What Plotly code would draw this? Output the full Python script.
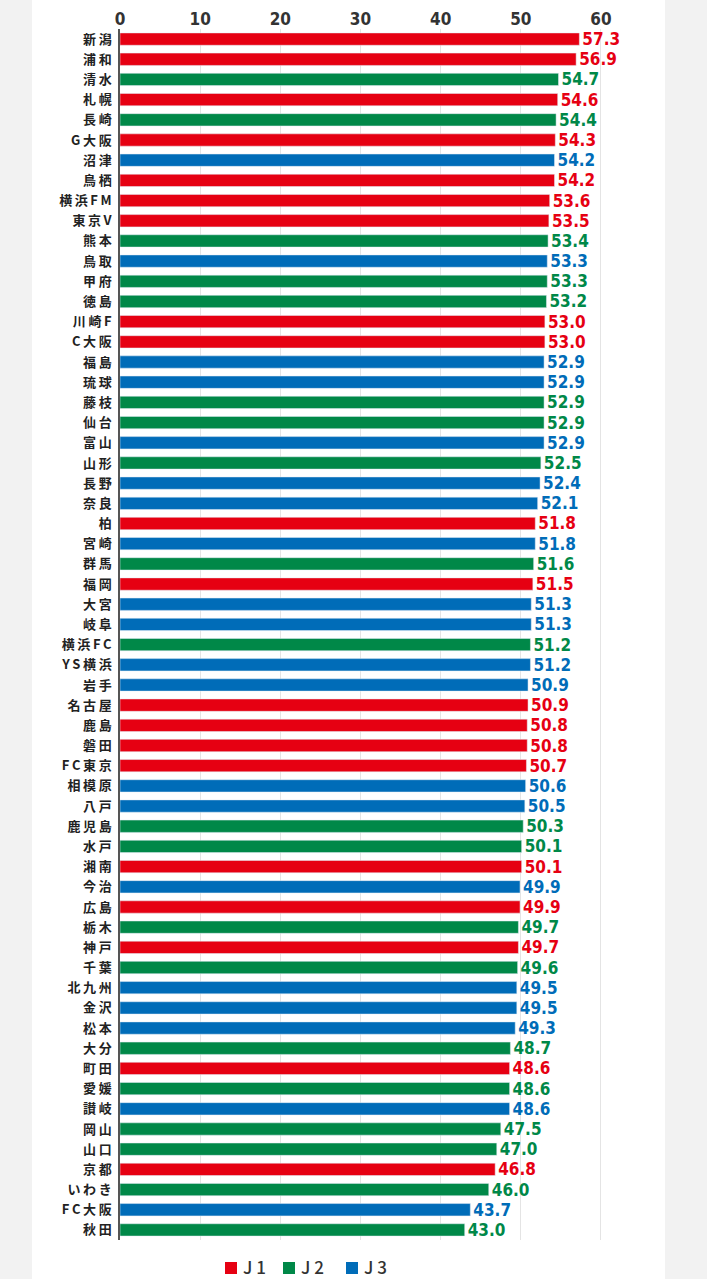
import plotly.graph_objects as go

teams = ["新潟","浦和","清水","札幌","長崎","G大阪","沼津","鳥栖","横浜FM","東京V",
         "熊本","鳥取","甲府","徳島","川崎F","C大阪","福島","琉球","藤枝","仙台",
         "富山","山形","長野","奈良","柏","宮崎","群馬","福岡","大宮","岐阜",
         "横浜FC","YS横浜","岩手","名古屋","鹿島","磐田","FC東京","相模原","八戸","鹿児島",
         "水戸","湘南","今治","広島","栃木","神戸","千葉","北九州","金沢","松本",
         "大分","町田","愛媛","讃岐","岡山","山口","京都","いわき","FC大阪","秋田"]
values = [57.3,56.9,54.7,54.6,54.4,54.3,54.2,54.2,53.6,53.5,
          53.4,53.3,53.3,53.2,53.0,53.0,52.9,52.9,52.9,52.9,
          52.9,52.5,52.4,52.1,51.8,51.8,51.6,51.5,51.3,51.3,
          51.2,51.2,50.9,50.9,50.8,50.8,50.7,50.6,50.5,50.3,
          50.1,50.1,49.9,49.9,49.7,49.7,49.6,49.5,49.5,49.3,
          48.7,48.6,48.6,48.6,47.5,47.0,46.8,46.0,43.7,43.0]
leagues = ["J1","J1","J2","J1","J2","J1","J3","J1","J1","J1",
           "J2","J3","J2","J2","J1","J1","J3","J3","J2","J2",
           "J3","J2","J3","J3","J1","J3","J2","J1","J3","J3",
           "J2","J3","J3","J1","J1","J1","J1","J3","J3","J2",
           "J2","J1","J3","J1","J2","J1","J2","J3","J3","J3",
           "J2","J1","J2","J3","J2","J2","J1","J2","J3","J2"]
league_names = ["J1","J2","J3"]
legend_labels = ["J 1","J 2","J 3"]
x_ticks = [0,10,20,30,40,50,60]

colors = {"J1":"#e60012","J2":"#008848","J3":"#006cb8"}

def spaced(s):
    return "\u2009".join(list(s))

labels = [spaced(t) for t in teams]

W, H = 707, 1279
ml, mr, mt, mb = 120, 102, 29, 39
pw = W - ml - mr
ph = H - mt - mb

def px_x(p):
    return (p - ml) / pw

def px_y(p):
    return (H - mb - p) / ph

num_font = "Liberation Sans Narrow, DejaVu Sans Condensed, Roboto"

fig = go.Figure()
for lg in league_names:
    ys = [labels[i] for i in range(len(teams)) if leagues[i] == lg]
    xs = [values[i] for i in range(len(teams)) if leagues[i] == lg]
    fig.add_trace(go.Bar(
        x=xs, y=ys, orientation="h", marker_color=colors[lg], name=lg,
        text=[f"{v:.1f}" for v in xs], textposition="outside",
        constraintext="none",
        textfont=dict(color=colors[lg], size=17, family=num_font, weight="bold"),
        cliponaxis=False, showlegend=False, hoverinfo="x+y"))

# white panel
fig.add_shape(type="rect", xref="paper", yref="paper", layer="below",
              x0=px_x(32), x1=px_x(665), y0=px_y(H + 5), y1=px_y(-5),
              fillcolor="white", line_width=0)

# legend (squares + labels)
sq_left = [225, 283, 346]
for lg, lab, x0 in zip(league_names, legend_labels, sq_left):
    fig.add_shape(type="rect", xref="paper", yref="paper",
                  x0=px_x(x0), x1=px_x(x0 + 12), y0=px_y(1262), y1=px_y(1274),
                  fillcolor=colors[lg], line_width=0)
    fig.add_annotation(xref="paper", yref="paper", x=px_x(x0 + 17), y=px_y(1266.5),
                       xanchor="left", yanchor="middle", showarrow=False, borderpad=0,
                       text=lab, font=dict(size=17, color="#333",
                                           family="Noto Sans CJK JP", weight=500))

fig.update_layout(
    width=W, height=H,
    margin=dict(l=ml, r=mr, t=mt, b=mb, autoexpand=False),
    paper_bgcolor="#f2f2f2", plot_bgcolor="rgba(0,0,0,0)",
    barmode="relative", bargap=0.39,
    font=dict(family="Noto Sans CJK JP", color="#333"),
    showlegend=False,
    xaxis=dict(side="top", range=[0, 60.5], tickvals=x_ticks, automargin=False,
               showgrid=True, gridcolor="#e4e4e4", gridwidth=1,
               zeroline=False, showline=False, ticks="",
               tickfont=dict(size=17, color="#333", family=num_font, weight="bold")),
    yaxis=dict(categoryorder="array", categoryarray=labels, autorange="reversed",
               automargin=False,
               showline=True, linecolor="#555", linewidth=1.5, ticks="",
               ticklabelstandoff=4,
               tickfont=dict(size=13, color="#222", family="Noto Sans CJK JP", weight="bold")),
)

fig.write_html("out.html")
